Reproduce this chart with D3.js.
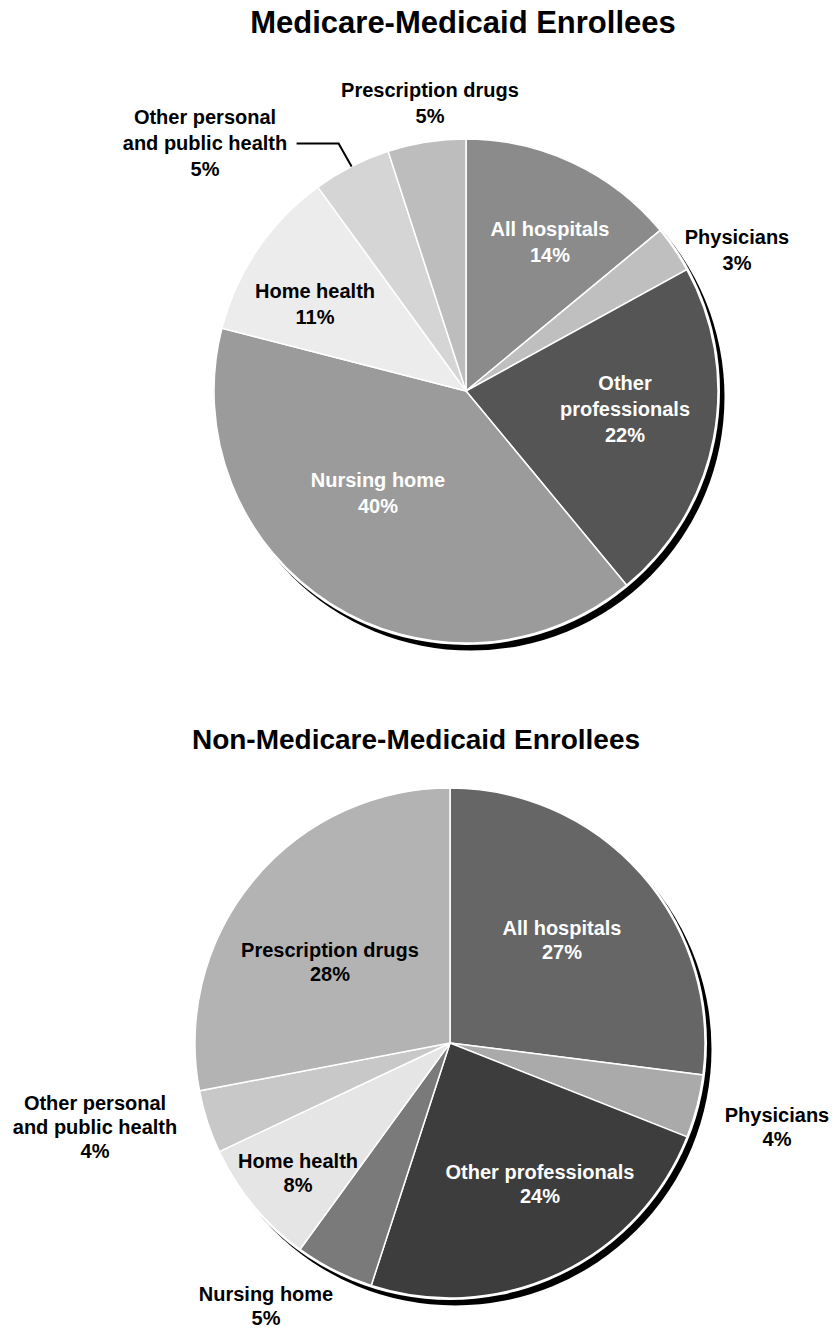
<!DOCTYPE html>
<html lang="en">
<head>
    <meta charset="UTF-8">
    <title>Medicare-Medicaid vs Non-Medicare-Medicaid Enrollees</title>
    <script src="https://d3js.org/d3.v7.min.js"></script>
    <style>
        body { margin: 0; background: #fff; }
        text { font-family: "Liberation Sans", Arial, sans-serif; font-weight: bold; }
        .slice { stroke: #fff; stroke-width: 1.5px; }
    </style>
</head>
<body>
    <svg width="834" height="1334"></svg>

    <script>
      // slice order: clockwise from 12 o'clock
      const categories = ["All hospitals", "Physicians", "Other professionals", "Nursing home",
                          "Home health", "Other personal\nand public health", "Prescription drugs"];
      const dualValues = [14, 3, 22, 40, 11, 5, 5];
      const nonDualValues = [27, 4, 24, 5, 8, 4, 28];

      const dualColors = ["#8b8b8b", "#bfbfbf", "#555555", "#9b9b9b", "#ececec", "#d5d5d5", "#bdbdbd"];
      const nonDualColors = ["#666666", "#aaaaaa", "#3d3d3d", "#7a7a7a", "#e5e5e5", "#c8c8c8", "#b3b3b3"];

      const svg = d3.select("svg");

      // label block centres relative to pie centre
      const charts = [
          {
              title: "Medicare-Medicaid Enrollees", titleX: 463, titleY: 33, titleSize: 31,
              cx: 466, cy: 391, r: 252, values: dualValues, colors: dualColors, lh: 26,
              labels: [[84, -149], [271, -141], [159, 18], [-88, 102], [-151, -87], [-261, -248], [-36, -288]],
              lineLabels: { "Other professionals": "Other\nprofessionals" },
              whites: ["All hospitals", "Other professionals", "Nursing home"],
              leader: 5
          },
          {
              title: "Non-Medicare-Medicaid Enrollees", titleX: 416, titleY: 749, titleSize: 28,
              cx: 450, cy: 1043, r: 255, values: nonDualValues, colors: nonDualColors, lh: 24,
              labels: [[112, -103], [327, 84], [90, 141], [-184, 263], [-152, 130], [-355, 84], [-120, -81]],
              lineLabels: {},
              whites: ["All hospitals", "Other professionals"],
              leader: null
          }
      ];

      const pie = d3.pie().sort(null).value(d => d.value);

      charts.forEach(c => {
          svg.append("text")
              .attr("x", c.titleX)
              .attr("y", c.titleY)
              .attr("text-anchor", "middle")
              .attr("font-size", c.titleSize)
              .attr("fill", "#000")
              .text(c.title);

          const g = svg.append("g").attr("transform", `translate(${c.cx},${c.cy})`);
          const arc = d3.arc().innerRadius(0).outerRadius(c.r);

          // drop shadow + white rim
          g.append("circle").attr("cx", 5).attr("cy", 6).attr("r", c.r + 1.5).attr("fill", "#000");
          g.append("circle").attr("r", c.r + 2).attr("fill", "#fff");

          const arcs = pie(categories.map((name, i) => ({ name, value: c.values[i], color: c.colors[i] })));

          g.selectAll(".slice")
              .data(arcs)
              .enter().append("path")
              .attr("class", "slice")
              .attr("d", arc)
              .attr("fill", d => d.data.color);

          arcs.forEach((d, i) => {
              const name = d.data.name;
              const label = (c.lineLabels[name] || name) + "\n" + c.values[i] + "%";
              const lines = label.split("\n");
              const [lx, ly] = c.labels[i];
              const y0 = ly - (lines.length - 1) * c.lh / 2 + 7;
              const t = g.append("text")
                  .attr("text-anchor", "middle")
                  .attr("font-size", 20)
                  .attr("fill", c.whites.includes(name) ? "#fff" : "#000");
              lines.forEach((s, k) => {
                  t.append("tspan").attr("x", lx).attr("y", y0 + k * c.lh).text(s);
              });
          });

          if (c.leader !== null) {
              const d = arcs[c.leader];
              const a = (d.startAngle + d.endAngle) / 2;
              const end = [Math.sin(a) * c.r, -Math.cos(a) * c.r];
              const elbow = [end[0] - 13, end[1] - 23];
              const start = [elbow[0] - 42, elbow[1]];
              g.append("path")
                  .attr("d", d3.line()([start, elbow, end]))
                  .attr("fill", "none")
                  .attr("stroke", "#000")
                  .attr("stroke-width", 2);
          }
      });
    </script>
</body>
</html>
